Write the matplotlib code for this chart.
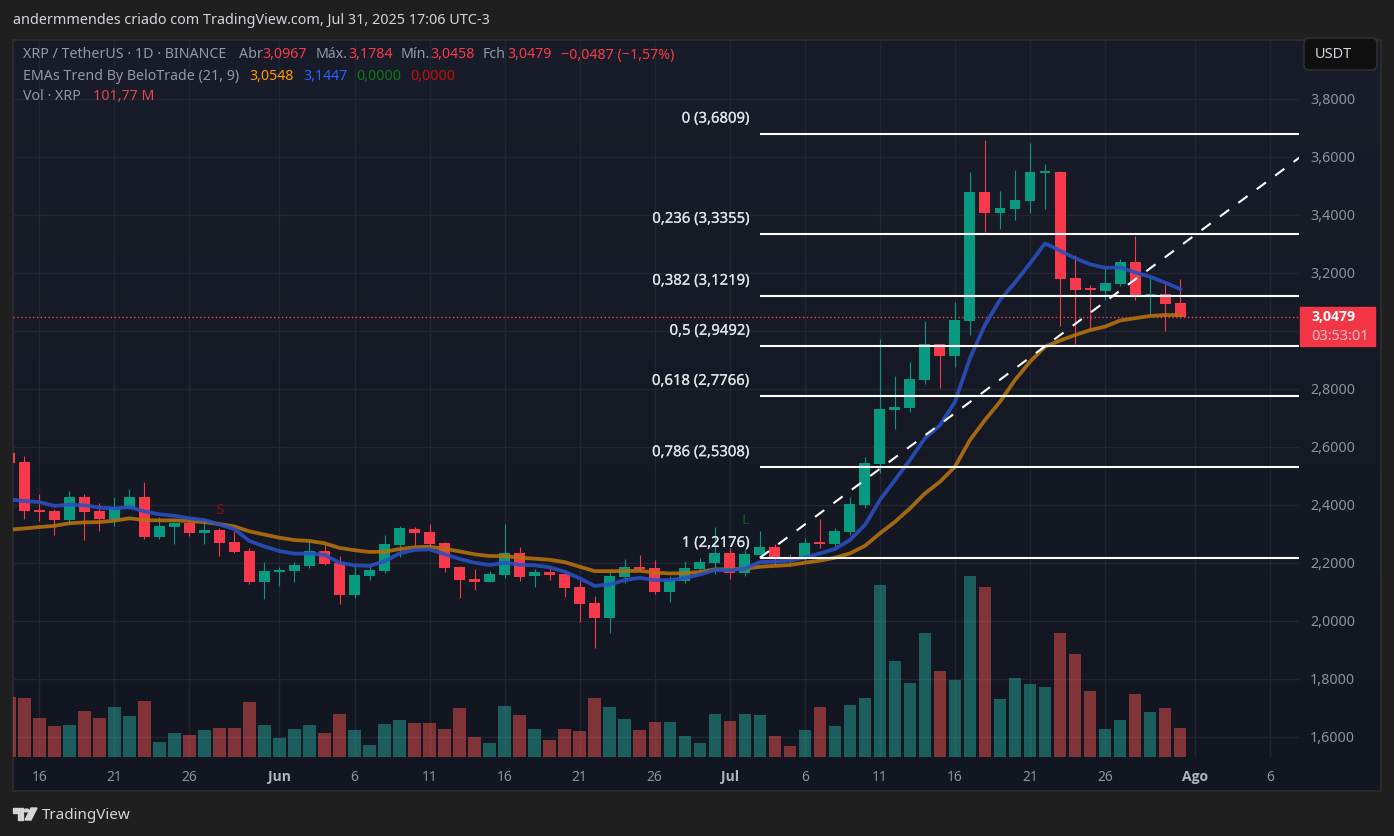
import numpy as np
import matplotlib
matplotlib.use("Agg")
import matplotlib.pyplot as plt
import matplotlib.patheffects as pe
from matplotlib.patches import Rectangle, FancyBboxPatch, Polygon, Circle
from matplotlib.transforms import ScaledTranslation

plt.rcParams['font.family'] = ['Noto Sans', 'DejaVu Sans']

W, H = 1394, 837

# daily candles, day 0 = 16 May 2025
days = np.arange(-2, 77)
opens = [2.580, 2.548, 2.383, 2.379, 2.348, 2.428, 2.379, 2.352, 2.390, 2.428,
         2.290, 2.324, 2.338, 2.303, 2.314, 2.272, 2.241, 2.134, 2.169, 2.172,
         2.190, 2.241, 2.200, 2.090, 2.155, 2.172, 2.262, 2.317, 2.307, 2.269,
         2.186, 2.145, 2.134, 2.159, 2.234, 2.155, 2.169, 2.162, 2.117, 2.062,
         2.010, 2.152, 2.186, 2.183, 2.100, 2.138, 2.179, 2.200, 2.234, 2.165,
         2.227, 2.255, 2.217, 2.214, 2.269, 2.265, 2.307, 2.400, 2.541, 2.727,
         2.734, 2.831, 2.955, 2.914, 3.034, 3.479, 3.407, 3.421, 3.448, 3.545,
         3.548, 3.183, 3.145, 3.138, 3.162, 3.238, 3.117, 3.128, 3.0967]
highs = [2.580, 2.569, 2.438, 2.386, 2.448, 2.438, 2.407, 2.428, 2.455, 2.479,
         2.359, 2.341, 2.359, 2.352, 2.321, 2.310, 2.252, 2.203, 2.186, 2.203,
         2.279, 2.262, 2.224, 2.190, 2.190, 2.296, 2.328, 2.324, 2.334, 2.272,
         2.190, 2.179, 2.172, 2.334, 2.255, 2.179, 2.183, 2.176, 2.141, 2.086,
         2.169, 2.214, 2.227, 2.210, 2.155, 2.207, 2.217, 2.324, 2.252, 2.245,
         2.310, 2.265, 2.231, 2.286, 2.352, 2.321, 2.428, 2.565, 2.972, 2.845,
         2.893, 3.034, 2.955, 3.100, 3.548, 3.659, 3.483, 3.555, 3.648, 3.576,
         3.552, 3.262, 3.159, 3.217, 3.248, 3.328, 3.183, 3.162, 3.1784]
lows = [2.546, 2.352, 2.345, 2.296, 2.331, 2.279, 2.310, 2.328, 2.386, 2.283,
        2.283, 2.265, 2.293, 2.265, 2.224, 2.234, 2.128, 2.076, 2.121, 2.134,
        2.183, 2.193, 2.059, 2.079, 2.141, 2.165, 2.221, 2.259, 2.255, 2.169,
        2.079, 2.107, 2.134, 2.148, 2.138, 2.117, 2.141, 2.083, 1.996, 1.907,
        1.958, 2.131, 2.172, 2.093, 2.065, 2.131, 2.172, 2.162, 2.145, 2.155,
        2.227, 2.193, 2.200, 2.207, 2.252, 2.245, 2.296, 2.390, 2.510, 2.662,
        2.721, 2.817, 2.803, 2.876, 2.986, 3.341, 3.352, 3.383, 3.407, 3.421,
        3.017, 2.955, 3.003, 3.107, 3.155, 3.107, 3.052, 3.000, 3.0458]
closes = [2.546, 2.379, 2.376, 2.348, 2.428, 2.376, 2.352, 2.393, 2.428, 2.290,
          2.328, 2.338, 2.303, 2.314, 2.269, 2.238, 2.134, 2.172, 2.176, 2.193,
          2.241, 2.196, 2.090, 2.158, 2.176, 2.265, 2.321, 2.303, 2.265, 2.183,
          2.141, 2.134, 2.162, 2.234, 2.152, 2.169, 2.159, 2.114, 2.059, 2.010,
          2.155, 2.186, 2.179, 2.100, 2.141, 2.183, 2.203, 2.234, 2.165, 2.231,
          2.255, 2.214, 2.214, 2.269, 2.265, 2.310, 2.403, 2.545, 2.731, 2.738,
          2.835, 2.955, 2.914, 3.038, 3.479, 3.407, 3.424, 3.452, 3.548, 3.548,
          3.179, 3.141, 3.141, 3.165, 3.238, 3.117, 3.128, 3.093, 3.0479]
volumes = [211, 207, 137, 109, 112, 161, 137, 176, 144, 197,
           53, 84, 77, 95, 102, 102, 193, 112, 67, 98,
           112, 84, 151, 95, 42, 116, 130, 119, 119, 98,
           172, 70, 49, 179, 147, 98, 60, 98, 91, 207,
           176, 133, 95, 123, 123, 74, 49, 151, 126, 151,
           147, 74, 39, 95, 176, 109, 183, 207, 604, 337,
           260, 435, 302, 270, 635, 597, 204, 277, 256, 246,
           435, 362, 232, 98, 130, 221, 158, 172, 101.77]
ema9 = [2.419, 2.414, 2.410, 2.397, 2.401, 2.399, 2.391, 2.388, 2.393, 2.378,
        2.368, 2.363, 2.354, 2.348, 2.333, 2.317, 2.276, 2.257, 2.241, 2.232,
        2.233, 2.228, 2.201, 2.192, 2.190, 2.206, 2.233, 2.245, 2.247, 2.230,
        2.214, 2.201, 2.193, 2.201, 2.194, 2.192, 2.185, 2.170, 2.147, 2.121,
        2.126, 2.141, 2.149, 2.141, 2.141, 2.148, 2.160, 2.176, 2.175, 2.180,
        2.203, 2.205, 2.208, 2.219, 2.233, 2.248, 2.279, 2.331, 2.417, 2.486,
        2.555, 2.630, 2.675, 2.756, 2.906, 3.021, 3.107, 3.167, 3.233, 3.302,
        3.277, 3.251, 3.230, 3.218, 3.219, 3.202, 3.187, 3.167, 3.1447]
ema21 = [2.315, 2.319, 2.324, 2.328, 2.337, 2.340, 2.341, 2.346, 2.354, 2.348,
         2.347, 2.347, 2.345, 2.341, 2.334, 2.326, 2.309, 2.298, 2.287, 2.279,
         2.276, 2.268, 2.252, 2.244, 2.238, 2.239, 2.248, 2.254, 2.256, 2.249,
         2.240, 2.230, 2.224, 2.224, 2.218, 2.215, 2.211, 2.203, 2.187, 2.172,
         2.172, 2.172, 2.173, 2.167, 2.164, 2.165, 2.169, 2.178, 2.178, 2.180,
         2.187, 2.190, 2.193, 2.201, 2.208, 2.218, 2.233, 2.259, 2.302, 2.342,
         2.388, 2.440, 2.480, 2.532, 2.624, 2.693, 2.756, 2.831, 2.894, 2.946,
         2.967, 2.986, 3.003, 3.015, 3.036, 3.044, 3.052, 3.055, 3.0548]

fib_labels = ['0', '0,236', '0,382', '0,5', '0,618', '0,786', '1']
fib_prices = [3.6809, 3.3355, 3.1219, 2.9492, 2.7766, 2.5308, 2.2176]
trend_days = [48, 84]
trend_prices = [2.2176, 3.6]

last_close = 3.0479
price_ticks = [1.6, 1.8, 2.0, 2.2, 2.4, 2.6, 2.8, 3.0, 3.2, 3.4, 3.6, 3.8]
time_ticks = [0, 5, 10, 16, 21, 26, 31, 36, 41, 46, 51, 56, 61, 66, 71, 77, 82]
time_labels = ['16', '21', '26', 'Jun', '6', '11', '16', '21', '26', 'Jul',
               '6', '11', '16', '21', '26', 'Ago', '6']

GREEN, RED = '#089981', '#f7394b'
GRID = '#222631'
TXT = '#9598a1'


def ptext(x, y, s, color=TXT, size=14.2, **kw):
    # text placed by pixel position, size in px
    kw.setdefault('va', 'center')
    return fig.text(x / W, 1 - y / H, s, color=color, fontsize=size * 0.72, **kw)


fig = plt.figure(figsize=(W / 100, H / 100), dpi=100, facecolor='#1f1f1f')

# panel with its soft vertical gradient
bg = fig.add_axes([13 / W, 1 - 792 / H, 1368 / W, 751 / H], zorder=0)
grad = np.linspace(0, 1, 256).reshape(-1, 1, 1)
top_c, bot_c = np.array([0x19, 0x1d, 0x29]), np.array([0x12, 0x16, 0x20])
bg.imshow((top_c + (bot_c - top_c) * grad) / 255, aspect='auto')
bg.set_xticks([])
bg.set_yticks([])
for s in bg.spines.values():
    s.set_color('#2b2b2b')
    s.set_linewidth(1.5)

# grid and tick labels sit under the volume, candles on top of it
pos = [13 / W, 1 - 758 / H, 1286 / W, 717 / H]
grid_ax = fig.add_axes(pos, zorder=1)
grid_ax.patch.set_alpha(0)
vol_ax = fig.add_axes(pos, zorder=2)
vol_ax.patch.set_alpha(0)
ax = fig.add_axes(pos, zorder=3)
ax.patch.set_alpha(0)

xlim = (-1.752, 83.92)
ylim = (1.5310, 4.0034)

grid_ax.set_xlim(xlim)
grid_ax.set_ylim(ylim)
grid_ax.set_yticks(price_ticks)
# 3,0000 lies under the last price tag
grid_ax.set_yticklabels(['' if p == 3.0 else f'{p:.4f}'.replace('.', ',') for p in price_ticks])
grid_ax.set_xticks(time_ticks)
grid_ax.set_xticklabels(time_labels)
grid_ax.yaxis.tick_right()
grid_ax.tick_params(axis='y', length=0, pad=8, labelcolor='#8f929b', labelsize=10.3)
grid_ax.tick_params(axis='x', length=0, pad=8.5, labelcolor='#8f929b', labelsize=10)
nudge = ScaledTranslation(0, 1.5 / 100, fig.dpi_scale_trans)
for t in grid_ax.get_yticklabels():
    t.set_transform(t.get_transform() + nudge)
for t, lab in zip(grid_ax.get_xticklabels(), time_labels):
    if lab in ('Jun', 'Jul', 'Ago'):
        t.set_family('Open Sans')
        t.set_fontweight('bold')
        t.set_color('#b2b5be')
grid_ax.grid(True, color=GRID, linewidth=1)
for s in grid_ax.spines.values():
    s.set_visible(False)

# volume pane
vol_colors = ['#26a69a' if c >= o else '#ef5350' for o, c in zip(opens, closes)]
vol_ax.bar(days, volumes, width=0.83, color=vol_colors, alpha=0.5, linewidth=0)
vol_ax.set_xlim(xlim)
vol_ax.set_ylim(0, 2517)
vol_ax.axis('off')

# candles
for d, o, h, l, c in zip(days, opens, highs, lows, closes):
    col = GREEN if c >= o else RED
    ax.vlines(d, l, h, color=col, linewidth=0.8, zorder=4, snap=True)
    ax.bar(d, max(abs(c - o), 0.006), bottom=min(o, c), width=0.73, color=col,
           linewidth=0, zorder=4)

ax.plot(days, ema21, color='#b5710f', linewidth=2.7, alpha=0.9, zorder=5)
ax.plot(days, ema9, color='#2a4fc0', linewidth=2.7, alpha=0.9, zorder=5)

# fibonacci drawing
ax.hlines(fib_prices, 48, 84, color='white', linewidth=1.5, zorder=6)
ax.plot(trend_days, trend_prices, color='white', linewidth=1.5, zorder=6,
        dashes=(5.5, 5.5))
for lab, p in zip(fib_labels, fib_prices):
    ax.annotate(f'{lab} ({p:.4f})'.replace('.', ','), (48, p),
                xytext=(-7.2, 10.4), textcoords='offset points', ha='right',
                va='center', color='#e0e2e7', fontsize=10.7, zorder=7,
                path_effects=[pe.withStroke(linewidth=0.15, foreground='#e0e2e7')])

ax.axhline(last_close, color='#ff3b4e', linewidth=1, linestyle=(0, (1, 1.8)), zorder=3)

ax.set_xlim(xlim)
ax.set_ylim(ylim)
ax.axis('off')

# last price tag and currency button
fig.add_artist(Rectangle((1300 / W, 1 - 347 / H), 75 / W, 39 / H, color='#f23645',
                         transform=fig.transFigure, zorder=5))
ptext(1311, 317, '3,0479', color='white', size=14, family='Open Sans',
      fontweight='bold', zorder=6)
ptext(1311, 337, '03:53:01', color='#fbc2c8', size=14.5, zorder=6)
fig.add_artist(FancyBboxPatch((1304 / W, 1 - 71 / H), 73 / W, 32 / H,
                              boxstyle='round,pad=0,rounding_size=0.004',
                              mutation_aspect=W / H, facecolor='#0f0f0f',
                              edgecolor='#2f2f2f', linewidth=1.2,
                              transform=fig.transFigure, zorder=5))
ptext(1315, 55, 'USDT', color='#d1d4dc', size=14.5, zorder=6)

# header and legend
ptext(13, 20, 'andermmendes criado com TradingView.com, Jul 31, 2025 17:06 UTC-3',
      color='#d1d4dc', size=14.4)
ptext(23, 55, 'XRP / TetherUS · 1D · BINANCE')
for x, s, c in [(239, 'Abr', TXT), (262, '3,0967', RED), (316, 'Máx.', TXT),
                (348, '3,1784', RED), (401, 'Mín.', TXT), (430, '3,0458', RED),
                (483, 'Fch', TXT), (507, '3,0479', RED),
                (561, '−0,0487 (−1,57%)', RED)]:
    ptext(x, 55, s, color=c)
ptext(23, 76, 'EMAs Trend By BeloTrade (21, 9)')
for x, s, c in [(249, '3,0548', '#ff9800'), (303, '3,1447', '#2962ff'),
                (356, '0,0000', '#0c7a12'), (410, '0,0000', '#c50f0f')]:
    ptext(x, 76, s, color=c)
ptext(23, 96, 'Vol · XRP')
ptext(93, 96, '101,77 M', color='#e0474f')

# buy / sell markers of the indicator
ptext(219, 511, 'S', color='#8b0d18', size=15, ha='center')
ptext(745, 520, 'L', color='#0d5c14', size=15, ha='center')

# footer logo
logo = '#d6d6d6'
def px(pts):
    return [(x / W, 1 - y / H) for x, y in pts]
fig.add_artist(Polygon(px([(13, 809), (23, 809), (23, 821), (18, 821), (18, 814), (13, 814)]),
                       closed=True, color=logo, transform=fig.transFigure))
fig.add_artist(Polygon(px([(31, 809), (37, 809), (31, 821), (25, 821)]),
                       closed=True, color=logo, transform=fig.transFigure))
fig.add_artist(Circle((26.5 / W, 1 - 811.5 / H), 2.4 / W, color=logo,
                      transform=fig.transFigure))
ptext(42, 816, 'TradingView', color='#d6d6d6', size=15.2)

fig.savefig('out.png', dpi=100, facecolor=fig.get_facecolor())
